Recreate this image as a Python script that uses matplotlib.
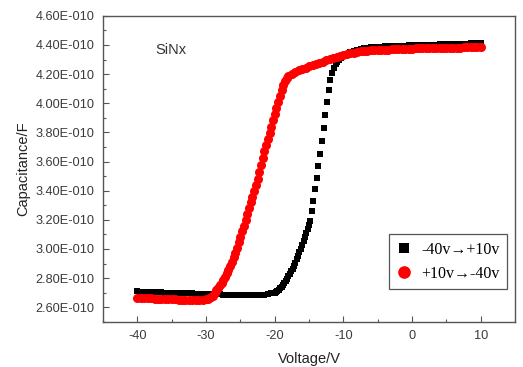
import matplotlib
matplotlib.use("Agg")
import matplotlib.pyplot as plt
from matplotlib.ticker import FuncFormatter, MultipleLocator

# capacitance values in units of 1E-010 F
# forward sweep -40v -> +10v
fwd_voltage = [
    -40.0, -39.5, -39.0, -38.5, -38.0, -37.5, -37.0, -36.5, -36.0, -35.5,
    -35.0, -34.5, -34.0, -33.5, -33.0, -32.5, -32.0, -31.5, -31.0, -30.5,
    -30.0, -29.5, -29.0, -28.5, -28.0, -27.5, -27.0, -26.5, -26.0, -25.5,
    -25.0, -24.5, -24.0, -23.5, -23.0, -22.5, -22.0, -21.5, -21.0, -20.5,
    -20.0, -19.8, -19.6, -19.4, -19.2, -19.0, -18.8, -18.6, -18.4, -18.2,
    -18.0, -17.8, -17.6, -17.4, -17.2, -17.0, -16.8, -16.6, -16.4, -16.2,
    -16.0, -15.8, -15.6, -15.4, -15.2, -15.0, -14.8, -14.6, -14.4, -14.15,
    -13.9, -13.65, -13.4, -13.15, -12.9, -12.65, -12.4, -12.15, -11.9, -11.65,
    -11.4, -11.15, -10.9, -10.6, -10.3, -10.0, -9.5, -9.0, -8.5, -8.0,
    -7.5, -7.0, -6.5, -6.0, -5.5, -5.0, -4.5, -4.0, -3.5, -3.0,
    -2.5, -2.0, -1.5, -1.0, -0.5, 0.0, 0.5, 1.0, 1.5, 2.0,
    2.5, 3.0, 3.5, 4.0, 4.5, 5.0, 5.5, 6.0, 6.5, 7.0,
    7.5, 8.0, 8.5, 9.0, 9.5, 10.0,
]
fwd_cap = [
    2.709, 2.708, 2.707, 2.706, 2.705, 2.704, 2.703, 2.702, 2.701, 2.700,
    2.699, 2.698, 2.697, 2.696, 2.696, 2.695, 2.695, 2.694, 2.694, 2.693,
    2.692, 2.691, 2.690, 2.689, 2.688, 2.687, 2.686, 2.685, 2.684, 2.684,
    2.683, 2.683, 2.682, 2.682, 2.682, 2.683, 2.684, 2.686, 2.690, 2.695,
    2.701, 2.706, 2.713, 2.721, 2.731, 2.742, 2.754, 2.767, 2.781, 2.796,
    2.812, 2.829, 2.847, 2.866, 2.886, 2.907, 2.929, 2.952, 2.976, 3.001,
    3.027, 3.053, 3.080, 3.107, 3.135, 3.163, 3.192, 3.260, 3.330, 3.410,
    3.490, 3.570, 3.650, 3.740, 3.830, 3.920, 4.010, 4.090, 4.160, 4.210,
    4.245, 4.268, 4.285, 4.298, 4.310, 4.322, 4.338, 4.350, 4.360, 4.367,
    4.373, 4.377, 4.380, 4.383, 4.385, 4.387, 4.389, 4.390, 4.391, 4.392,
    4.393, 4.394, 4.395, 4.396, 4.397, 4.398, 4.398, 4.399, 4.400, 4.400,
    4.401, 4.402, 4.402, 4.403, 4.404, 4.405, 4.405, 4.406, 4.407, 4.407,
    4.408, 4.409, 4.410, 4.410, 4.411, 4.412,
]

# reverse sweep +10v -> -40v
rev_voltage = [
    -40.0, -39.5, -39.0, -38.5, -38.0, -37.5, -37.0, -36.5, -36.0, -35.5,
    -35.0, -34.5, -34.0, -33.5, -33.0, -32.5, -32.0, -31.5, -31.0, -30.5,
    -30.0, -29.75, -29.5, -29.25, -29.0, -28.75, -28.5, -28.25, -28.0, -27.75,
    -27.5, -27.25, -27.0, -26.75, -26.5, -26.25, -26.0, -25.75, -25.5, -25.25,
    -25.0, -24.75, -24.5, -24.25, -24.0, -23.75, -23.5, -23.25, -23.0, -22.75,
    -22.5, -22.25, -22.0, -21.75, -21.5, -21.25, -21.0, -20.75, -20.5, -20.25,
    -20.0, -19.75, -19.5, -19.25, -19.0, -18.75, -18.5, -18.25, -18.0, -17.5,
    -17.0, -16.5, -16.0, -15.5, -15.0, -14.5, -14.0, -13.5, -13.0, -12.5,
    -12.0, -11.5, -11.0, -10.5, -10.0, -9.5, -9.0, -8.5, -8.0, -7.5,
    -7.0, -6.5, -6.0, -5.5, -5.0, -4.5, -4.0, -3.5, -3.0, -2.5,
    -2.0, -1.5, -1.0, -0.5, 0.0, 0.5, 1.0, 1.5, 2.0, 2.5,
    3.0, 3.5, 4.0, 4.5, 5.0, 5.5, 6.0, 6.5, 7.0, 7.5,
    8.0, 8.5, 9.0, 9.5, 10.0,
]
rev_cap = [
    2.665, 2.664, 2.663, 2.662, 2.661, 2.660, 2.659, 2.658, 2.657, 2.656,
    2.655, 2.654, 2.653, 2.652, 2.652, 2.651, 2.651, 2.651, 2.651, 2.652,
    2.655, 2.658, 2.662, 2.668, 2.678, 2.695, 2.716, 2.733, 2.751, 2.770,
    2.790, 2.811, 2.833, 2.856, 2.880, 2.910, 2.942, 2.975, 3.010, 3.047,
    3.085, 3.122, 3.160, 3.200, 3.240, 3.280, 3.320, 3.360, 3.400, 3.440,
    3.480, 3.527, 3.575, 3.622, 3.670, 3.712, 3.755, 3.798, 3.840, 3.882,
    3.925, 3.968, 4.010, 4.052, 4.092, 4.128, 4.155, 4.175, 4.190, 4.203,
    4.215, 4.226, 4.236, 4.245, 4.254, 4.262, 4.270, 4.278, 4.286, 4.294,
    4.302, 4.310, 4.318, 4.325, 4.332, 4.338, 4.343, 4.348, 4.352, 4.356,
    4.359, 4.361, 4.363, 4.364, 4.365, 4.366, 4.367, 4.368, 4.369, 4.370,
    4.371, 4.372, 4.373, 4.374, 4.375, 4.376, 4.376, 4.377, 4.377, 4.378,
    4.378, 4.379, 4.379, 4.380, 4.380, 4.381, 4.381, 4.382, 4.382, 4.383,
    4.383, 4.384, 4.384, 4.385, 4.386,
]

fwd_label = "-40v\u2192+10v"
rev_label = "+10v\u2192-40v"

plt.rcParams["font.family"] = ["Liberation Sans", "DejaVu Sans"]
plt.rcParams["axes.unicode_minus"] = False
tick_color = "#3a3a3a"

fig = plt.figure(figsize=(5.23, 3.67), dpi=100)
ax = fig.add_axes([0.197, 0.123, 0.788, 0.834])

ax.plot(fwd_voltage, fwd_cap, "s", color="black", ms=5, mew=0, label=fwd_label)
ax.plot(rev_voltage, rev_cap, "o", color="#ff0000", ms=6.5, mew=0, label=rev_label)

ax.set_xlim(-45, 15)
ax.set_ylim(2.5, 4.6)
ax.xaxis.set_major_locator(MultipleLocator(10))
ax.xaxis.set_minor_locator(MultipleLocator(5))
ax.yaxis.set_major_locator(MultipleLocator(0.2))
ax.yaxis.set_minor_locator(MultipleLocator(0.1))
ax.yaxis.set_major_formatter(FuncFormatter(lambda v, p: f"{v:.2f}E-010"))

ax.tick_params(which="both", direction="in", colors="#555555",
               labelcolor=tick_color, labelsize=9.2, top=False, right=False)
ax.tick_params(which="major", length=4, width=0.8, pad=6)
ax.tick_params(which="minor", length=2.5, width=0.8)
for s in ax.spines.values():
    s.set_color("#555555")
    s.set_linewidth(1.0)

ax.set_xlabel("Voltage/V", fontsize=10.5, color="#222222", labelpad=7)
ax.set_ylabel("Capacitance/F", fontsize=10.5, color="#222222", labelpad=4)

ax.text(0.127, 0.875, "SiNx", transform=ax.transAxes, fontsize=10.5,
        color="#333333")

leg = ax.legend(loc="lower right", bbox_to_anchor=(0.98, 0.108), borderaxespad=0,
                prop={"family": ["Liberation Serif", "DejaVu Serif"], "size": 11.5},
                frameon=True, fancybox=False, framealpha=1,
                handletextpad=0.6, borderpad=0.45, labelspacing=0.5,
                markerscale=1.4, handlelength=1.0)
leg.get_frame().set_edgecolor("#555555")
leg.get_frame().set_linewidth(0.9)

fig.savefig("out.png", dpi=100)
